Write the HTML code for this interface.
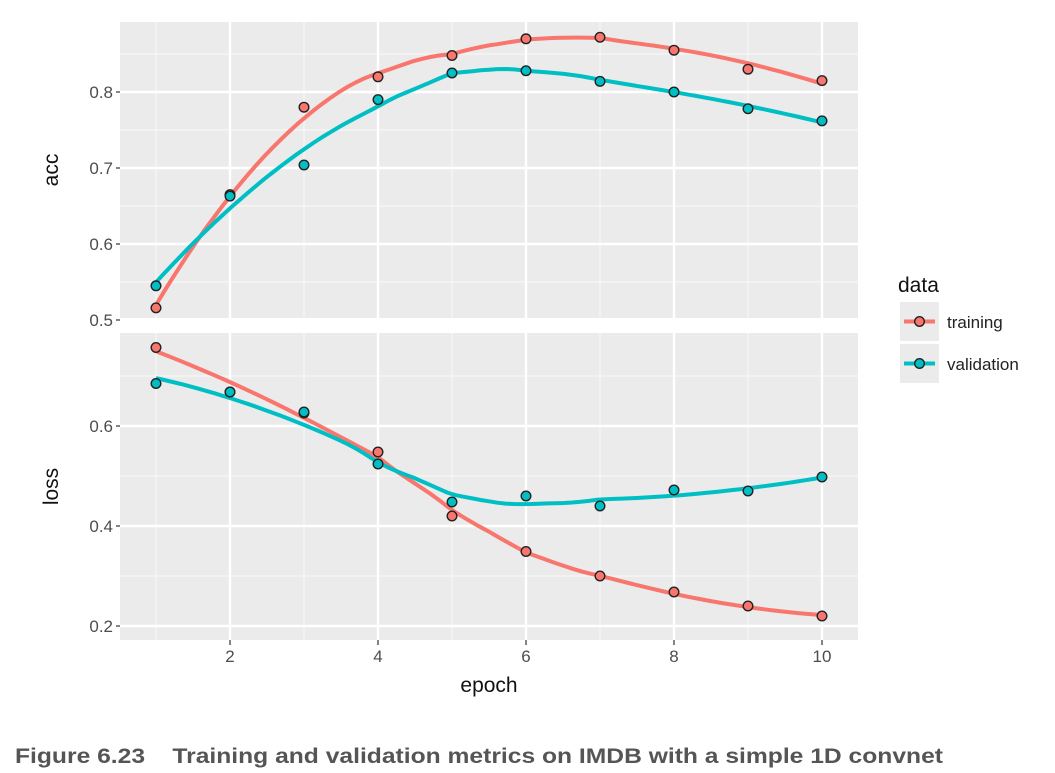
<!DOCTYPE html>
<html><head><meta charset="utf-8"><style>
body{margin:0;background:#fff;width:1055px;height:773px;overflow:hidden;font-family:"Liberation Sans",sans-serif}
svg{position:absolute;left:0;top:0}
</style></head><body>
<svg id="chart" width="1055" height="773"></svg>
<script>
const epochs=[1,2,3,4,5,6,7,8,9,10];
const accTraining=[0.516,0.665,0.78,0.82,0.848,0.87,0.872,0.855,0.83,0.815];
const accValidation=[0.545,0.663,0.704,0.79,0.825,0.828,0.814,0.80,0.778,0.762];
const lossTraining=[0.757,0.668,0.626,0.548,0.42,0.349,0.30,0.268,0.24,0.22];
const lossValidation=[0.685,0.668,0.628,0.524,0.448,0.46,0.44,0.472,0.47,0.498];
const xTicks=[2,4,6,8,10];
const accTicks=[0.5,0.6,0.7,0.8];
const lossTicks=[0.2,0.4,0.6];
const RED="#f8766d",CYAN="#00bfc4";
const NS="http://www.w3.org/2000/svg";
const svg=document.getElementById('chart');
function el(tag,attrs,parent){const e=document.createElementNS(NS,tag);for(const k in attrs)e.setAttribute(k,attrs[k]);(parent||svg).appendChild(e);return e;}
const X0=120,X1=858;
const xs=v=>156+(v-1)*74;
const panels=[
 {name:'acc',top:22,bot:318,y:v=>92+(0.8-v)*760,ticks:accTicks,tr:accTraining,va:accValidation,lab:'acc'},
 {name:'loss',top:333,bot:640,y:v=>626-(v-0.2)*500,ticks:lossTicks,tr:lossTraining,va:lossValidation,lab:'loss'}
];
function loess(xv,yv,x0){const n=xv.length,q=Math.floor(0.75*n);
 const d=xv.map(x=>Math.abs(x-x0));const ds=[...d].sort((a,b)=>a-b);const h=ds[q-1]*Math.max(1,0.75*n/q)||1;
 let S=[[0,0,0],[0,0,0],[0,0,0]],T=[0,0,0];
 for(let i=0;i<n;i++){let u=d[i]/h;let w=u<1?Math.pow(1-u*u*u,3):0;const t=xv[i]-x0;const b=[1,t,t*t];
  for(let a=0;a<3;a++){T[a]+=w*b[a]*yv[i];for(let c=0;c<3;c++)S[a][c]+=w*b[a]*b[c];}}
 const M=S.map((r,i)=>[...r,T[i]]);
 for(let i=0;i<3;i++){let p=i;for(let r=i+1;r<3;r++)if(Math.abs(M[r][i])>Math.abs(M[p][i]))p=r;[M[i],M[p]]=[M[p],M[i]];
  for(let r=0;r<3;r++)if(r!==i){const f=M[r][i]/M[i][i];for(let c=i;c<4;c++)M[r][c]-=f*M[i][c];}}
 return M[0][3]/M[0][0];}
panels.forEach(p=>{
 const g=el('g',{});
 el('rect',{x:X0,y:p.top,width:X1-X0,height:p.bot-p.top,fill:'#ebebeb'},g);
 for(let i=0;i<p.ticks.length-1;i++){const m=(p.ticks[i]+p.ticks[i+1])/2;el('line',{x1:X0,x2:X1,y1:p.y(m),y2:p.y(m),stroke:'#f7f7f7','stroke-width':1.2},g);}
 const mTop=p.ticks[p.ticks.length-1]+(p.ticks[1]-p.ticks[0])/2; if(p.y(mTop)>p.top)el('line',{x1:X0,x2:X1,y1:p.y(mTop),y2:p.y(mTop),stroke:'#f7f7f7','stroke-width':1.2},g);
 const mb=p.ticks[0]-(p.ticks[1]-p.ticks[0])/2; if(p.y(mb)<p.bot)el('line',{x1:X0,x2:X1,y1:p.y(mb),y2:p.y(mb),stroke:'#f7f7f7','stroke-width':1.2},g);
 [1,3,5,7,9].forEach(v=>el('line',{x1:xs(v),x2:xs(v),y1:p.top,y2:p.bot,stroke:'#f7f7f7','stroke-width':1.2},g));
 p.ticks.forEach(t=>{el('line',{x1:X0,x2:X1,y1:p.y(t),y2:p.y(t),stroke:'#fff','stroke-width':2.4},g);
  el('line',{x1:X0-4,x2:X0,y1:p.y(t),y2:p.y(t),stroke:'#333','stroke-width':1.2},g);
  const tx=el('text',{x:X0-7,y:p.y(t)+6,'text-anchor':'end','font-size':17,fill:'#4d4d4d'},g);tx.textContent=t.toFixed(1);
  });
 xTicks.forEach(v=>el('line',{x1:xs(v),x2:xs(v),y1:p.top,y2:p.bot,stroke:'#fff','stroke-width':2.4},g));
 const yl=el('text',{x:0,y:0,transform:`translate(58,${(p.top+p.bot)/2}) rotate(-90)`,'text-anchor':'middle','font-size':21,fill:'#111'},g);yl.textContent=p.lab;
 
 [[p.tr,RED,'training'],[p.va,CYAN,'validation']].forEach(([vals,col,nm])=>{
  let d='';for(let i=0;i<=80;i++){const x=1+9*i/80;d+=(i?'L':'M')+xs(x).toFixed(1)+','+p.y(loess(epochs,vals,x)).toFixed(1);}
  const path=el('path',{d,fill:'none',stroke:col,'stroke-width':4},g);
  
 });
 [[p.tr,RED,'training'],[p.va,CYAN,'validation']].forEach(([vals,col,nm])=>{
  vals.forEach((v,i)=>{const c=el('circle',{cx:xs(epochs[i]),cy:p.y(v),r:4.8,fill:col,stroke:'#222','stroke-width':1.4},g);
   });
 });
});
xTicks.forEach(v=>{el('line',{x1:xs(v),x2:xs(v),y1:640,y2:645,stroke:'#333','stroke-width':1.2});
 const t=el('text',{x:xs(v),y:662,'text-anchor':'middle','font-size':17,fill:'#4d4d4d'});t.textContent=v;
 });
const xt=el('text',{x:489,y:692,'text-anchor':'middle','font-size':21,fill:'#111'});xt.textContent='epoch';

const lg=el('g',{});
const lt=el('text',{x:898,y:292,'font-size':21,fill:'#111'},lg);lt.textContent='data';
[['training',RED,302],['validation',CYAN,344]].forEach(([nm,col,y])=>{
 const e=el('g',{},lg);
 el('rect',{x:900,y:y,width:39,height:39,fill:'#ebebeb'},e);
 el('line',{x1:904,x2:935,y1:y+19.5,y2:y+19.5,stroke:col,'stroke-width':4},e);
 el('circle',{cx:919.5,cy:y+19.5,r:4.8,fill:col,stroke:'#222','stroke-width':1.4},e);
 const t=el('text',{x:947,y:y+26,'font-size':17,fill:'#222'},e);t.textContent=nm;});
const cap=el('text',{x:15,y:763,'font-size':21,'font-weight':'bold',fill:'#555'});
cap.textContent='Figure 6.23\u00a0\u00a0\u00a0\u00a0Training and validation metrics on IMDB with a simple 1D convnet';
cap.setAttribute('textLength','928');
cap.setAttribute('lengthAdjust','spacingAndGlyphs');

</script>
</body></html>
